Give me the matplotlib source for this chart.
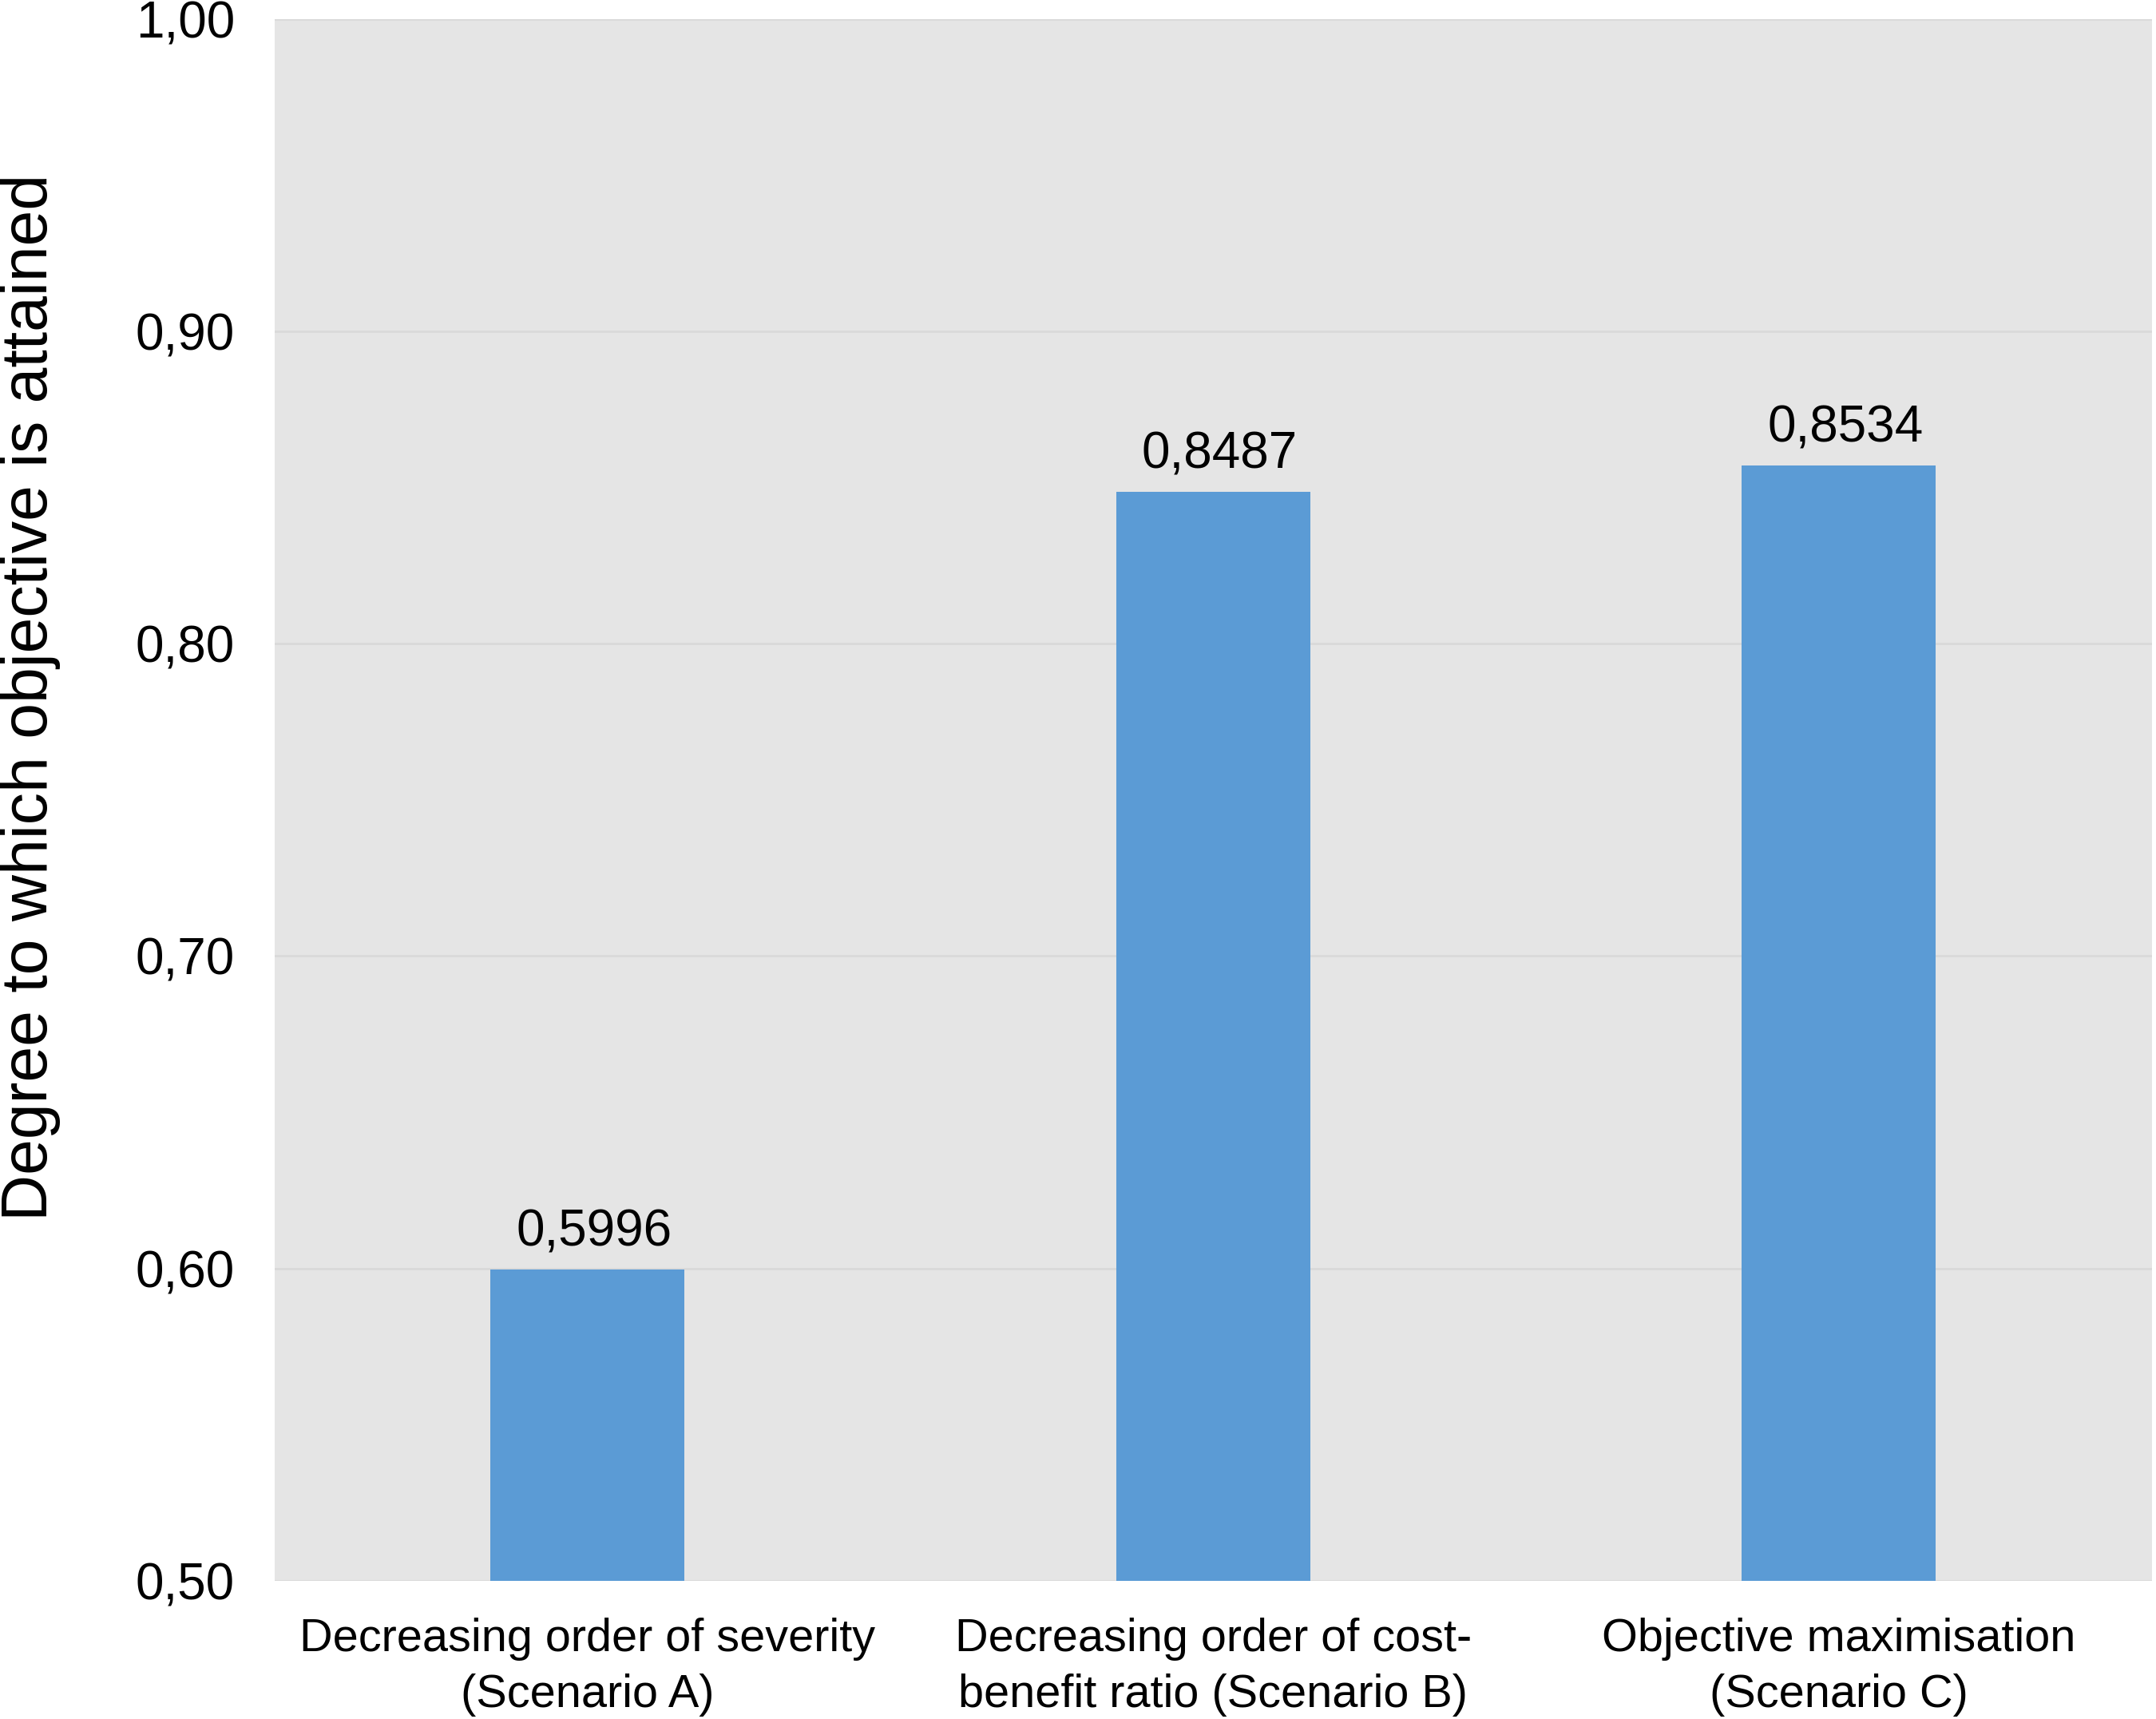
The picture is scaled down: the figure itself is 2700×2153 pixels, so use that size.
import matplotlib
matplotlib.use("Agg")
import matplotlib.pyplot as plt

categories = ["Decreasing order of severity\n(Scenario A)",
              "Decreasing order of cost-\nbenefit ratio (Scenario B)",
              "Objective maximisation\n(Scenario C)"]
values = [0.5996, 0.8487, 0.8570]
value_labels = ["0,5996", "0,8487", "0,8534"]
yticks = [0.50, 0.60, 0.70, 0.80, 0.90, 1.00]
ytick_labels = ["0,50", "0,60", "0,70", "0,80", "0,90", "1,00"]

plt.rcParams['font.family'] = ['Liberation Sans', 'DejaVu Sans']

fig = plt.figure(figsize=(27, 21.53), dpi=100)
ax = fig.add_axes([0.1274, 0.0804, 0.8706, 0.9085])
ax.set_facecolor('#e5e5e5')

x = range(len(categories))
bars = ax.bar(x, values, width=0.31, color='#5b9bd5', zorder=3, bottom=0)
ax.set_xlim(-0.5, 2.5)
ax.set_ylim(0.5, 1.0)
ax.set_yticks(yticks)
ax.set_yticklabels(ytick_labels)
ax.set_xticks(list(x))
ax.set_xticklabels(categories, linespacing=1.38)
ax.grid(axis='y', color='#d9d9d9', linewidth=2, zorder=1)
ax.tick_params(axis='y', length=0, pad=36, labelsize=46)
ax.tick_params(axis='x', length=0, pad=33, labelsize=41.5)
for s in ax.spines.values():
    s.set_visible(False)

for xi, v, lab in zip(x, values, value_labels):
    ax.annotate(lab, (xi, v), xytext=(6, 12), textcoords='offset points',
                ha='center', va='bottom', fontsize=46, zorder=4)

fig.text(38 / 2700, 1 - 873 / 2153, "Degree to which objective is attained",
         rotation=90, ha='center', va='center', fontsize=58)

fig.savefig("out.png", dpi=100)
